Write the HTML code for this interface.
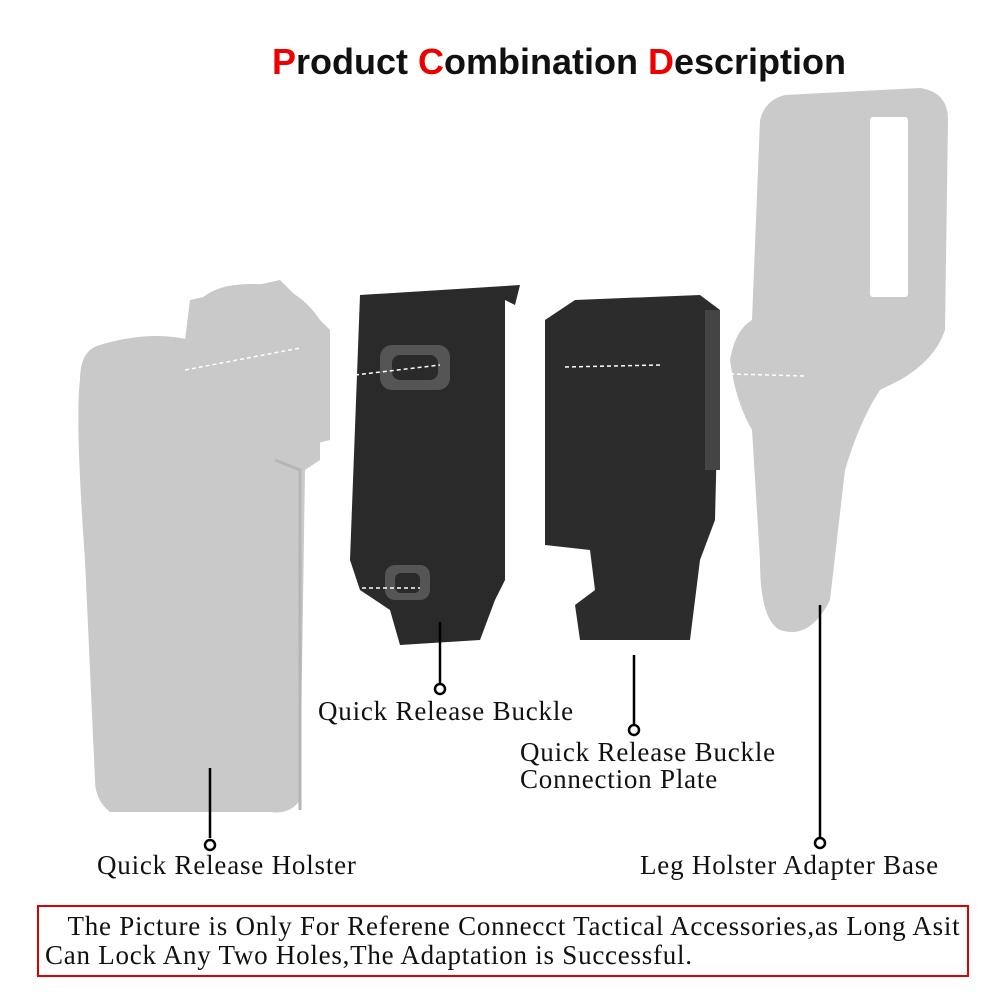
<!DOCTYPE html>
<html><head><meta charset="utf-8"><style>
html,body{margin:0;padding:0;background:#fff;}
body{width:1002px;height:1002px;position:relative;overflow:hidden;}
.t{position:absolute;font-family:"Liberation Serif",serif;font-size:27px;letter-spacing:0.8px;color:#111;white-space:nowrap;}
.title{position:absolute;left:0;width:1118px;text-align:center;top:41px;font-family:"Liberation Sans",sans-serif;font-weight:bold;font-size:36px;color:#111;}
.r{color:#e00;}
.box{position:absolute;left:37px;top:905px;width:932px;height:72px;border:2px solid #d00;box-sizing:border-box;}
</style></head><body>
<div class="title"><span class="r">P</span>roduct <span class="r">C</span>ombination <span class="r">D</span>escription</div>
<svg width="1002" height="1002" style="position:absolute;left:0;top:0">
<g fill="#c9c9c9">
<path d="M200 300 Q220 280 270 285 Q300 290 320 320 L320 460 L305 470 L300 800 Q290 815 270 812 L110 812 Q95 800 95 780 L85 560 Q75 420 80 380 Q80 350 100 345 Q150 330 190 340 Z"/>
<path d="M185 340 L190 300 L280 280 L330 330 L330 440 L290 450 L190 400 Z"/>
</g>
<path d="M275 460 L300 470 L300 810" stroke="#b5b5b5" stroke-width="3" fill="none"/>
<g fill="#2a2a2a">
<path d="M360 295 L520 285 L515 305 L505 300 L505 580 L495 600 L480 640 L400 645 L390 610 L360 590 L350 560 Z"/>
</g>
<g fill="#555">
<rect x="380" y="345" width="70" height="45" rx="12"/>
<rect x="385" y="565" width="45" height="35" rx="10"/>
</g>
<g fill="#2a2a2a"><rect x="392" y="355" width="46" height="25" rx="8"/><rect x="395" y="573" width="25" height="20" rx="6"/></g>
<path d="M545 320 L575 300 L700 295 L720 310 L715 520 L700 560 L690 640 L580 640 L575 605 L595 590 L590 550 L545 545 Z" fill="#2c2c2c"/>
<path d="M705 310 L720 310 L720 470 L705 470 Z" fill="#444"/>
<path d="M760 120 Q765 100 785 95 L920 88 Q948 92 948 120 L945 330 Q935 360 900 380 L880 390 Q860 420 845 470 L830 600 Q810 640 780 630 Q760 620 760 560 L752 430 Q735 400 730 360 Q735 330 752 320 Z" fill="#cacaca"/>
<rect x="870" y="117" width="38" height="180" rx="3" fill="#fff"/>
<g stroke="#fff" stroke-width="1.5" stroke-dasharray="4 3">
<line x1="185" y1="370" x2="300" y2="348"/><line x1="355" y1="375" x2="440" y2="365"/><line x1="320" y1="588" x2="420" y2="588"/>
<line x1="565" y1="367" x2="660" y2="365"/><line x1="730" y1="374" x2="805" y2="376"/>
</g>
<g stroke="#000" stroke-width="2.5" fill="#fff">
<line x1="210" y1="768" x2="210" y2="838"/><circle cx="210" cy="845" r="5"/>
<line x1="440" y1="622" x2="440" y2="683"/><circle cx="440" cy="689" r="5"/>
<line x1="634" y1="655" x2="634" y2="724"/><circle cx="634" cy="730" r="5"/>
<line x1="820" y1="605" x2="820" y2="837"/><circle cx="820" cy="843" r="5"/>
</g>
</svg>
<div class="t" style="left:318px;top:696px">Quick Release Buckle</div>
<div class="t" style="left:520px;top:737px">Quick Release Buckle</div>
<div class="t" style="left:520px;top:764px">Connection Plate</div>
<div class="t" style="left:97px;top:850px">Quick Release Holster</div>
<div class="t" style="left:640px;top:850px">Leg Holster Adapter Base</div>
<div class="box"></div>
<div class="t" style="left:45px;top:911px;letter-spacing:0.75px">&nbsp;&nbsp;&nbsp;The Picture is Only For Referene Connecct Tactical Accessories,as Long Asit</div>
<div class="t" style="left:45px;top:940px;letter-spacing:0.75px">Can Lock Any Two Holes,The Adaptation is Successful.</div>
</body></html>
